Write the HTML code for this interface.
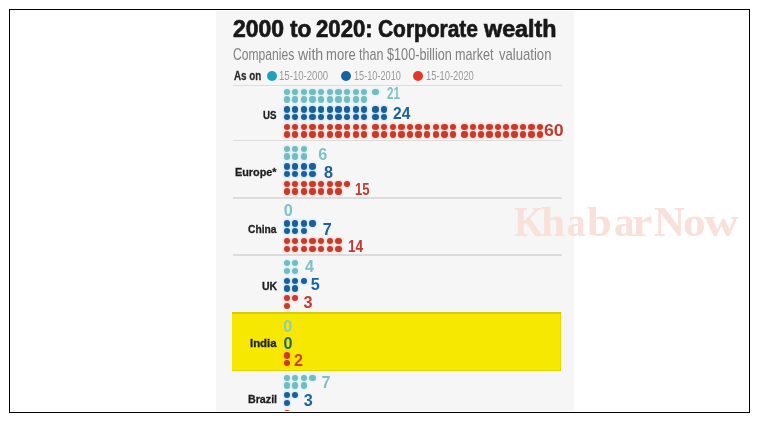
<!DOCTYPE html>
<html><head><meta charset="utf-8">
<style>
html,body{margin:0;padding:0;background:#fff;width:759px;height:422px;overflow:hidden;position:relative;font-family:"Liberation Sans",sans-serif}
.frame{position:absolute;left:9px;top:9px;width:739px;height:402px;border:1px solid #000}
.chart{position:absolute;left:216px;top:11px;width:358px;height:400px;background:#f6f6f6;overflow:hidden}
.in{position:absolute;left:-216px;top:-11px;width:759px;height:422px;filter:blur(0.55px)}
.t{position:absolute;white-space:nowrap;transform-origin:0 0}
i{position:absolute;width:6.3px;height:6.3px;border-radius:50%;display:block}
i.a{background:#72bcc1;box-shadow:0 0 2px 1px rgba(150,225,235,0.3)}
i.b{background:#1a5f9a;box-shadow:0 0 2px 1px rgba(120,200,250,0.3)}
i.c{background:#c83a29;box-shadow:0 0 2px 1px rgba(250,150,130,0.3)}
.sep{position:absolute;left:233px;width:329px;height:1.3px;background:#dcdcdc}
.hl{position:absolute;left:231.8px;top:312.2px;width:329.4px;height:59.3px;background:#f6e800;box-shadow:inset -1px 0 0 0 rgba(170,160,30,0.2)}
.ld{position:absolute;width:10px;height:10px;border-radius:50%}
.wm{position:absolute;top:202.10px;line-height:41.77px;transform-origin:0 0;font-family:"Liberation Serif",serif;font-weight:bold;font-size:41.77px;color:#f9e0d9;white-space:nowrap}
</style></head><body>
<div class="chart"><div class="in">
<div class="sep" style="top:84.5px"></div>
<div class="sep" style="top:139.9px"></div>
<div class="sep" style="top:197.3px"></div>
<div class="sep" style="top:254.4px"></div>
<div class="hl"></div>
<div class="sep" style="top:312.4px;left:231.8px;width:329.4px;background:rgba(110,100,30,0.22)"></div>
<div class="sep" style="top:369.6px;left:231.8px;width:329.4px;background:rgba(110,100,30,0.14)"></div>
<div class="ld" style="left:266.5px;top:70.8px;background:#1ba3bd"></div>
<div class="ld" style="left:341.2px;top:70.8px;background:#1463a8"></div>
<div class="ld" style="left:413px;top:70.8px;background:#e0382a"></div>
<i class="a" style="left:283.55px;top:88.75px"></i>
<i class="a" style="left:283.55px;top:96.45px"></i>
<i class="a" style="left:292.17px;top:88.75px"></i>
<i class="a" style="left:292.17px;top:96.45px"></i>
<i class="a" style="left:300.79px;top:88.75px"></i>
<i class="a" style="left:300.79px;top:96.45px"></i>
<i class="a" style="left:309.41px;top:88.75px"></i>
<i class="a" style="left:309.41px;top:96.45px"></i>
<i class="a" style="left:318.03px;top:88.75px"></i>
<i class="a" style="left:318.03px;top:96.45px"></i>
<i class="a" style="left:326.65px;top:88.75px"></i>
<i class="a" style="left:326.65px;top:96.45px"></i>
<i class="a" style="left:335.27px;top:88.75px"></i>
<i class="a" style="left:335.27px;top:96.45px"></i>
<i class="a" style="left:343.89px;top:88.75px"></i>
<i class="a" style="left:343.89px;top:96.45px"></i>
<i class="a" style="left:352.51px;top:88.75px"></i>
<i class="a" style="left:352.51px;top:96.45px"></i>
<i class="a" style="left:361.13px;top:88.75px"></i>
<i class="a" style="left:361.13px;top:96.45px"></i>
<i class="a" style="left:372.45px;top:88.75px"></i>
<i class="b" style="left:283.55px;top:106.25px"></i>
<i class="b" style="left:283.55px;top:113.95px"></i>
<i class="b" style="left:292.17px;top:106.25px"></i>
<i class="b" style="left:292.17px;top:113.95px"></i>
<i class="b" style="left:300.79px;top:106.25px"></i>
<i class="b" style="left:300.79px;top:113.95px"></i>
<i class="b" style="left:309.41px;top:106.25px"></i>
<i class="b" style="left:309.41px;top:113.95px"></i>
<i class="b" style="left:318.03px;top:106.25px"></i>
<i class="b" style="left:318.03px;top:113.95px"></i>
<i class="b" style="left:326.65px;top:106.25px"></i>
<i class="b" style="left:326.65px;top:113.95px"></i>
<i class="b" style="left:335.27px;top:106.25px"></i>
<i class="b" style="left:335.27px;top:113.95px"></i>
<i class="b" style="left:343.89px;top:106.25px"></i>
<i class="b" style="left:343.89px;top:113.95px"></i>
<i class="b" style="left:352.51px;top:106.25px"></i>
<i class="b" style="left:352.51px;top:113.95px"></i>
<i class="b" style="left:361.13px;top:106.25px"></i>
<i class="b" style="left:361.13px;top:113.95px"></i>
<i class="b" style="left:372.45px;top:106.25px"></i>
<i class="b" style="left:372.45px;top:113.95px"></i>
<i class="b" style="left:381.05px;top:106.25px"></i>
<i class="b" style="left:381.05px;top:113.95px"></i>
<i class="c" style="left:283.55px;top:123.75px"></i>
<i class="c" style="left:283.55px;top:131.45px"></i>
<i class="c" style="left:292.17px;top:123.75px"></i>
<i class="c" style="left:292.17px;top:131.45px"></i>
<i class="c" style="left:300.79px;top:123.75px"></i>
<i class="c" style="left:300.79px;top:131.45px"></i>
<i class="c" style="left:309.41px;top:123.75px"></i>
<i class="c" style="left:309.41px;top:131.45px"></i>
<i class="c" style="left:318.03px;top:123.75px"></i>
<i class="c" style="left:318.03px;top:131.45px"></i>
<i class="c" style="left:326.65px;top:123.75px"></i>
<i class="c" style="left:326.65px;top:131.45px"></i>
<i class="c" style="left:335.27px;top:123.75px"></i>
<i class="c" style="left:335.27px;top:131.45px"></i>
<i class="c" style="left:343.89px;top:123.75px"></i>
<i class="c" style="left:343.89px;top:131.45px"></i>
<i class="c" style="left:352.51px;top:123.75px"></i>
<i class="c" style="left:352.51px;top:131.45px"></i>
<i class="c" style="left:361.13px;top:123.75px"></i>
<i class="c" style="left:361.13px;top:131.45px"></i>
<i class="c" style="left:372.45px;top:123.75px"></i>
<i class="c" style="left:372.45px;top:131.45px"></i>
<i class="c" style="left:381.05px;top:123.75px"></i>
<i class="c" style="left:381.05px;top:131.45px"></i>
<i class="c" style="left:389.65px;top:123.75px"></i>
<i class="c" style="left:389.65px;top:131.45px"></i>
<i class="c" style="left:398.25px;top:123.75px"></i>
<i class="c" style="left:398.25px;top:131.45px"></i>
<i class="c" style="left:406.85px;top:123.75px"></i>
<i class="c" style="left:406.85px;top:131.45px"></i>
<i class="c" style="left:415.45px;top:123.75px"></i>
<i class="c" style="left:415.45px;top:131.45px"></i>
<i class="c" style="left:424.05px;top:123.75px"></i>
<i class="c" style="left:424.05px;top:131.45px"></i>
<i class="c" style="left:432.65px;top:123.75px"></i>
<i class="c" style="left:432.65px;top:131.45px"></i>
<i class="c" style="left:441.25px;top:123.75px"></i>
<i class="c" style="left:441.25px;top:131.45px"></i>
<i class="c" style="left:449.85px;top:123.75px"></i>
<i class="c" style="left:449.85px;top:131.45px"></i>
<i class="c" style="left:461.25px;top:123.75px"></i>
<i class="c" style="left:461.25px;top:131.45px"></i>
<i class="c" style="left:469.62px;top:123.75px"></i>
<i class="c" style="left:469.62px;top:131.45px"></i>
<i class="c" style="left:477.99px;top:123.75px"></i>
<i class="c" style="left:477.99px;top:131.45px"></i>
<i class="c" style="left:486.36px;top:123.75px"></i>
<i class="c" style="left:486.36px;top:131.45px"></i>
<i class="c" style="left:494.73px;top:123.75px"></i>
<i class="c" style="left:494.73px;top:131.45px"></i>
<i class="c" style="left:503.10px;top:123.75px"></i>
<i class="c" style="left:503.10px;top:131.45px"></i>
<i class="c" style="left:511.47px;top:123.75px"></i>
<i class="c" style="left:511.47px;top:131.45px"></i>
<i class="c" style="left:519.84px;top:123.75px"></i>
<i class="c" style="left:519.84px;top:131.45px"></i>
<i class="c" style="left:528.21px;top:123.75px"></i>
<i class="c" style="left:528.21px;top:131.45px"></i>
<i class="c" style="left:536.58px;top:123.75px"></i>
<i class="c" style="left:536.58px;top:131.45px"></i>
<i class="a" style="left:283.55px;top:145.75px"></i>
<i class="a" style="left:283.55px;top:153.45px"></i>
<i class="a" style="left:292.17px;top:145.75px"></i>
<i class="a" style="left:292.17px;top:153.45px"></i>
<i class="a" style="left:300.79px;top:145.75px"></i>
<i class="a" style="left:300.79px;top:153.45px"></i>
<i class="b" style="left:283.55px;top:163.25px"></i>
<i class="b" style="left:283.55px;top:170.95px"></i>
<i class="b" style="left:292.17px;top:163.25px"></i>
<i class="b" style="left:292.17px;top:170.95px"></i>
<i class="b" style="left:300.79px;top:163.25px"></i>
<i class="b" style="left:300.79px;top:170.95px"></i>
<i class="b" style="left:309.41px;top:163.25px"></i>
<i class="b" style="left:309.41px;top:170.95px"></i>
<i class="c" style="left:283.55px;top:180.75px"></i>
<i class="c" style="left:283.55px;top:188.45px"></i>
<i class="c" style="left:292.17px;top:180.75px"></i>
<i class="c" style="left:292.17px;top:188.45px"></i>
<i class="c" style="left:300.79px;top:180.75px"></i>
<i class="c" style="left:300.79px;top:188.45px"></i>
<i class="c" style="left:309.41px;top:180.75px"></i>
<i class="c" style="left:309.41px;top:188.45px"></i>
<i class="c" style="left:318.03px;top:180.75px"></i>
<i class="c" style="left:318.03px;top:188.45px"></i>
<i class="c" style="left:326.65px;top:180.75px"></i>
<i class="c" style="left:326.65px;top:188.45px"></i>
<i class="c" style="left:335.27px;top:180.75px"></i>
<i class="c" style="left:335.27px;top:188.45px"></i>
<i class="c" style="left:343.89px;top:180.75px"></i>
<i class="b" style="left:283.55px;top:220.45px"></i>
<i class="b" style="left:283.55px;top:228.15px"></i>
<i class="b" style="left:292.17px;top:220.45px"></i>
<i class="b" style="left:292.17px;top:228.15px"></i>
<i class="b" style="left:300.79px;top:220.45px"></i>
<i class="b" style="left:300.79px;top:228.15px"></i>
<i class="b" style="left:309.41px;top:220.45px"></i>
<i class="c" style="left:283.55px;top:237.95px"></i>
<i class="c" style="left:283.55px;top:245.65px"></i>
<i class="c" style="left:292.17px;top:237.95px"></i>
<i class="c" style="left:292.17px;top:245.65px"></i>
<i class="c" style="left:300.79px;top:237.95px"></i>
<i class="c" style="left:300.79px;top:245.65px"></i>
<i class="c" style="left:309.41px;top:237.95px"></i>
<i class="c" style="left:309.41px;top:245.65px"></i>
<i class="c" style="left:318.03px;top:237.95px"></i>
<i class="c" style="left:318.03px;top:245.65px"></i>
<i class="c" style="left:326.65px;top:237.95px"></i>
<i class="c" style="left:326.65px;top:245.65px"></i>
<i class="c" style="left:335.27px;top:237.95px"></i>
<i class="c" style="left:335.27px;top:245.65px"></i>
<i class="a" style="left:283.55px;top:260.05px"></i>
<i class="a" style="left:283.55px;top:267.75px"></i>
<i class="a" style="left:292.17px;top:260.05px"></i>
<i class="a" style="left:292.17px;top:267.75px"></i>
<i class="b" style="left:283.55px;top:277.55px"></i>
<i class="b" style="left:283.55px;top:285.25px"></i>
<i class="b" style="left:292.17px;top:277.55px"></i>
<i class="b" style="left:292.17px;top:285.25px"></i>
<i class="b" style="left:300.79px;top:277.55px"></i>
<i class="c" style="left:283.55px;top:295.05px"></i>
<i class="c" style="left:283.55px;top:302.75px"></i>
<i class="c" style="left:292.17px;top:295.05px"></i>
<i class="c" style="left:283.55px;top:352.25px"></i>
<i class="c" style="left:283.55px;top:359.95px"></i>
<i class="a" style="left:283.55px;top:374.60px"></i>
<i class="a" style="left:283.55px;top:382.30px"></i>
<i class="a" style="left:292.17px;top:374.60px"></i>
<i class="a" style="left:292.17px;top:382.30px"></i>
<i class="a" style="left:300.79px;top:374.60px"></i>
<i class="a" style="left:300.79px;top:382.30px"></i>
<i class="a" style="left:309.41px;top:374.60px"></i>
<i class="b" style="left:283.55px;top:392.10px"></i>
<i class="b" style="left:283.55px;top:399.80px"></i>
<i class="b" style="left:292.17px;top:392.10px"></i>
<i class="c" style="left:283.55px;top:409.60px"></i>
<div class="t" style="left:233.27px;top:17.28px;font-size:23.84px;line-height:23.84px;font-weight:700;color:#181818;transform:scaleX(0.9627);-webkit-text-stroke:0.7px #181818">2000</div>
<div class="t" style="left:289.90px;top:17.38px;font-size:23.84px;line-height:23.84px;font-weight:700;color:#181818;transform:scaleX(0.9532);-webkit-text-stroke:0.7px #181818">to</div>
<div class="t" style="left:315.90px;top:17.28px;font-size:23.85px;line-height:23.85px;font-weight:700;color:#181818;transform:scaleX(0.9295);-webkit-text-stroke:0.7px #181818">2020:</div>
<div class="t" style="left:377.93px;top:17.29px;font-size:23.84px;line-height:23.84px;font-weight:700;color:#181818;transform:scaleX(0.8781);-webkit-text-stroke:0.7px #181818">Corporate</div>
<div class="t" style="left:484.26px;top:17.28px;font-size:23.84px;line-height:23.84px;font-weight:700;color:#181818;transform:scaleX(0.9789);-webkit-text-stroke:0.7px #181818">wealth</div>
<div class="t" style="left:232.61px;top:45.75px;font-size:16.41px;line-height:16.41px;font-weight:400;color:#808080;transform:scaleX(0.7376)">Companies</div>
<div class="t" style="left:297.60px;top:45.78px;font-size:16.36px;line-height:16.36px;font-weight:400;color:#808080;transform:scaleX(0.8675)">with</div>
<div class="t" style="left:325.95px;top:46.49px;font-size:16.48px;line-height:16.48px;font-weight:400;color:#808080;transform:scaleX(0.7930)">more</div>
<div class="t" style="left:358.96px;top:46.83px;font-size:16.63px;line-height:16.63px;font-weight:400;color:#808080;transform:scaleX(0.7570)">than</div>
<div class="t" style="left:386.80px;top:46.83px;font-size:16.63px;line-height:16.63px;font-weight:400;color:#808080;transform:scaleX(0.7631)">$100-billion</div>
<div class="t" style="left:454.69px;top:46.12px;font-size:16.38px;line-height:16.38px;font-weight:400;color:#808080;transform:scaleX(0.7705)">market</div>
<div class="t" style="left:498.84px;top:46.49px;font-size:16.49px;line-height:16.49px;font-weight:400;color:#808080;transform:scaleX(0.7946)">valuation</div>
<div class="t" style="left:233.51px;top:68.55px;font-size:13.43px;line-height:13.43px;font-weight:700;color:#2a2a2a;transform:scaleX(0.7308);-webkit-text-stroke:0.3px #2a2a2a">As on</div>
<div class="t" style="left:279.10px;top:70.28px;font-size:12.55px;line-height:12.55px;font-weight:400;color:#9a9a9a;transform:scaleX(0.7657)">15-10-2000</div>
<div class="t" style="left:354.35px;top:70.03px;font-size:12.54px;line-height:12.54px;font-weight:400;color:#9a9a9a;transform:scaleX(0.7304)">15-10-2010</div>
<div class="t" style="left:425.82px;top:70.04px;font-size:12.53px;line-height:12.53px;font-weight:400;color:#9a9a9a;transform:scaleX(0.7469)">15-10-2020</div>
<div class="t" style="left:263.03px;top:109.53px;font-size:10.90px;line-height:10.90px;font-weight:700;color:#1e1e1e;transform:scaleX(0.8910);-webkit-text-stroke:0.3px #1e1e1e">US</div>
<div class="t" style="left:234.85px;top:166.65px;font-size:10.90px;line-height:10.90px;font-weight:700;color:#1e1e1e;transform:scaleX(0.9957);-webkit-text-stroke:0.3px #1e1e1e">Europe*</div>
<div class="t" style="left:247.93px;top:223.52px;font-size:10.90px;line-height:10.90px;font-weight:700;color:#1e1e1e;transform:scaleX(0.9390);-webkit-text-stroke:0.3px #1e1e1e">China</div>
<div class="t" style="left:261.53px;top:281.16px;font-size:10.90px;line-height:10.90px;font-weight:700;color:#1e1e1e;transform:scaleX(0.9667);-webkit-text-stroke:0.3px #1e1e1e">UK</div>
<div class="t" style="left:250.00px;top:338.08px;font-size:10.90px;line-height:10.90px;font-weight:700;color:#1e1e1e;transform:scaleX(1.0448);-webkit-text-stroke:0.3px #1e1e1e">India</div>
<div class="t" style="left:247.58px;top:394.33px;font-size:10.90px;line-height:10.90px;font-weight:700;color:#1e1e1e;transform:scaleX(0.9798);-webkit-text-stroke:0.3px #1e1e1e">Brazil</div>
<div class="t" style="left:386.96px;top:85.49px;font-size:16.20px;line-height:16.20px;font-weight:700;color:#7cc3c8;transform:scaleX(0.7191)">21</div>
<div class="t" style="left:392.97px;top:104.89px;font-size:16.20px;line-height:16.20px;font-weight:700;color:#1a62a2;transform:scaleX(0.9640)">24</div>
<div class="t" style="left:544.43px;top:122.02px;font-size:16.20px;line-height:16.20px;font-weight:700;color:#c23a30;transform:scaleX(1.0930)">60</div>
<div class="t" style="left:318.14px;top:145.85px;font-size:16.20px;line-height:16.20px;font-weight:700;color:#7cc3c8;transform:scaleX(1.0000)">6</div>
<div class="t" style="left:324.09px;top:164.12px;font-size:16.20px;line-height:16.20px;font-weight:700;color:#1a62a2;transform:scaleX(1.0000)">8</div>
<div class="t" style="left:355.00px;top:180.92px;font-size:16.20px;line-height:16.20px;font-weight:700;color:#c23a30;transform:scaleX(0.8084)">15</div>
<div class="t" style="left:283.87px;top:202.14px;font-size:16.20px;line-height:16.20px;font-weight:700;color:#7cc3c8;transform:scaleX(1.0000)">0</div>
<div class="t" style="left:322.81px;top:220.69px;font-size:16.20px;line-height:16.20px;font-weight:700;color:#1a62a2;transform:scaleX(1.0000)">7</div>
<div class="t" style="left:347.66px;top:237.78px;font-size:16.20px;line-height:16.20px;font-weight:700;color:#c23a30;transform:scaleX(0.8419)">14</div>
<div class="t" style="left:304.95px;top:257.53px;font-size:16.20px;line-height:16.20px;font-weight:700;color:#7cc3c8;transform:scaleX(1.0000)">4</div>
<div class="t" style="left:310.69px;top:276.24px;font-size:16.20px;line-height:16.20px;font-weight:700;color:#1a62a2;transform:scaleX(1.0000)">5</div>
<div class="t" style="left:303.38px;top:293.72px;font-size:16.20px;line-height:16.20px;font-weight:700;color:#c23a30;transform:scaleX(1.0000)">3</div>
<div class="t" style="left:283.13px;top:317.61px;font-size:16.20px;line-height:16.20px;font-weight:700;color:#8ccfb8;transform:scaleX(1.0000)">0</div>
<div class="t" style="left:283.60px;top:335.36px;font-size:16.20px;line-height:16.20px;font-weight:700;color:#1f6a70;transform:scaleX(1.0000)">0</div>
<div class="t" style="left:294.07px;top:351.98px;font-size:16.20px;line-height:16.20px;font-weight:700;color:#d0401c;transform:scaleX(1.0000)">2</div>
<div class="t" style="left:321.39px;top:373.76px;font-size:16.20px;line-height:16.20px;font-weight:700;color:#7cc3c8;transform:scaleX(1.0000)">7</div>
<div class="t" style="left:303.70px;top:391.93px;font-size:16.20px;line-height:16.20px;font-weight:700;color:#1a62a2;transform:scaleX(1.0000)">3</div>
</div></div>
<div class="frame"></div>
<div class="wm" style="left:514.43px;transform:scaleX(0.912)">K</div><div class="wm" style="left:541.25px;transform:scaleX(1.037)">h</div><div class="wm" style="left:566.51px;transform:scaleX(0.883)">a</div><div class="wm" style="left:587.38px;transform:scaleX(1.069)">b</div><div class="wm" style="left:613.54px;transform:scaleX(0.987)">a</div><div class="wm" style="left:632.30px;transform:scaleX(1.097)">r</div><div class="wm" style="left:653.81px;transform:scaleX(1.026)">N</div><div class="wm" style="left:682.56px;transform:scaleX(1.081)">o</div><div class="wm" style="left:703.97px;transform:scaleX(1.150)">w</div>
</body></html>
